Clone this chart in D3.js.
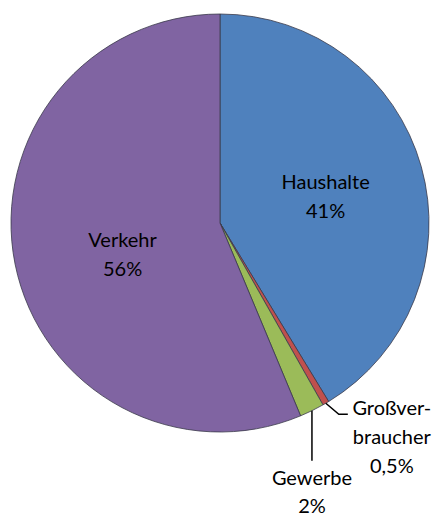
<!DOCTYPE html>
<html>
<head>
<meta charset="utf-8">
<script src="https://cdn.jsdelivr.net/npm/d3@7"></script>
<style>
  body { margin: 0; background: #fff; }
  svg { display: block; }
  text { font-family: Lato, "Open Sans", sans-serif; fill: #000; }
</style>
</head>
<body>
<script>
const categories = ['Haushalte', 'Großverbraucher', 'Gewerbe', 'Verkehr'];
const shares = [41.3, 0.5, 1.9, 56.3];
const shareLabels = ['41%', '0,5%', '2%', '56%'];
const colors = ['#4F81BD', '#C0504D', '#9BBB59', '#8064A2'];

const width = 438;
const height = 516;
const cx = 220;
const cy = 223;
const radius = 209;
const lineGap = 29;

const svg = d3.select('body')
  .append('svg')
  .attr('width', width)
  .attr('height', height);

const data = categories.map((name, i) => ({ name, value: shares[i], label: shareLabels[i], color: colors[i] }));

const pie = d3.pie()
  .sort(null)
  .value((d) => d.value);

const arc = d3.arc()
  .innerRadius(0)
  .outerRadius(radius);

const arcs = pie(data);

const g = svg.append('g')
  .attr('transform', `translate(${cx},${cy})`);

g.selectAll('path')
  .data(arcs)
  .enter()
  .append('path')
  .attr('d', arc)
  .attr('fill', (d) => d.data.color)
  .attr('stroke', '#3a3a4a')
  .attr('stroke-width', 0.8);

// labels inside the two big slices
const inner = d3.arc().innerRadius(radius * 0.5).outerRadius(radius * 0.5);

function placeInside(d, dx, dy) {
  const [x, y] = inner.centroid(d);
  const t = g.append('text')
    .attr('text-anchor', 'middle')
    .style('font-size', '20px');
  t.append('tspan').attr('x', x + dx).attr('y', y + dy).text(d.data.name);
  t.append('tspan').attr('x', x + dx).attr('y', y + dy + lineGap).text(d.data.label);
}

placeInside(arcs[0], 5, -6);
placeInside(arcs[3], 5, 3);

// leader lines + outside labels for the small slices
function edgePoint(d) {
  const a = (d.startAngle + d.endAngle) / 2;
  return [Math.sin(a) * radius, -Math.cos(a) * radius];
}

const pGross = edgePoint(arcs[1]);
g.append('polyline')
  .attr('points', [pGross, [pGross[0] + 13, pGross[1] + 11], [pGross[0] + 22, pGross[1] + 11]].map((p) => p.join(',')).join(' '))
  .attr('fill', 'none')
  .attr('stroke', '#000')
  .attr('stroke-width', 1.5);

const grossText = g.append('text')
  .attr('text-anchor', 'middle')
  .style('font-size', '20px');
['Großver-', 'braucher', '0,5%'].forEach((s, i) => {
  grossText.append('tspan')
    .attr('x', pGross[0] + 66)
    .attr('y', pGross[1] + 12 + i * lineGap)
    .text(s);
});

const pGew = edgePoint(arcs[2]);
g.append('line')
  .attr('x1', pGew[0])
  .attr('y1', pGew[1])
  .attr('x2', pGew[0])
  .attr('y2', pGew[1] + 50)
  .attr('stroke', '#000')
  .attr('stroke-width', 1.5);

const gewText = g.append('text')
  .attr('text-anchor', 'middle')
  .style('font-size', '20px');
['Gewerbe', '2%'].forEach((s, i) => {
  gewText.append('tspan')
    .attr('x', pGew[0])
    .attr('y', pGew[1] + 74 + i * 28)
    .text(s);
});
</script>
</body>
</html>
